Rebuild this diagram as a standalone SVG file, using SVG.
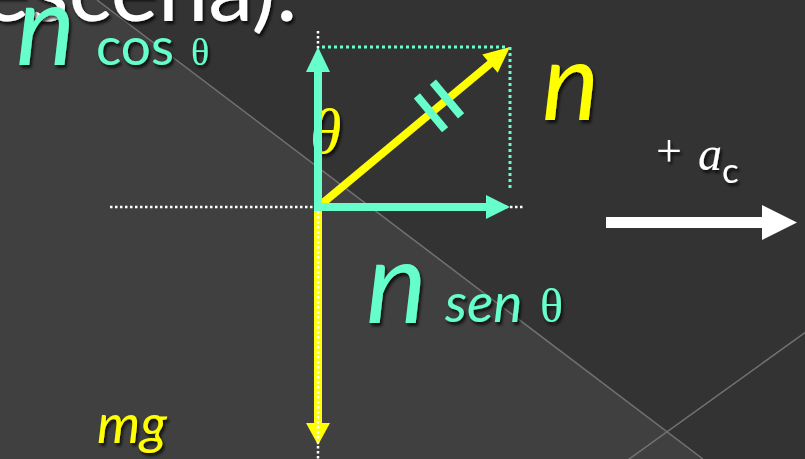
<svg xmlns="http://www.w3.org/2000/svg" width="805" height="459" viewBox="0 0 805 459">
<defs>
<style>
.teal{fill:#66FFCC}
.yel{fill:#FFFF00}
.wht{fill:#FFFFFF}
.sans{font-family:"Lato","Open Sans","Liberation Sans",sans-serif}
.serif{font-family:"Liberation Serif","DejaVu Serif",serif}
.it{font-style:italic}
.bgline{stroke:#727272;stroke-width:1.5;fill:none}
.wdot{stroke:#FFFFFF;stroke-width:2.5;stroke-dasharray:2.5 2.5;fill:none}
.tdot{stroke:#66FFCC;stroke-width:3;stroke-dasharray:3 3;fill:none}
.tline{stroke:#66FFCC;stroke-width:8;fill:none}
.yline{stroke:#FFFF00;stroke-width:8;fill:none}
</style>
<filter id="sh" x="-20%" y="-20%" width="140%" height="140%">
<feDropShadow dx="2" dy="3" stdDeviation="1.5" flood-color="#000" flood-opacity="0.75"/>
</filter>
</defs>
<g id="background">
<rect x="0" y="0" width="805" height="459" fill="#333333"/>
<polygon points="0,0 97,0 703,459 0,459" fill="#404040"/>
<line class="bgline" x1="97" y1="0" x2="703" y2="459"/>
<line class="bgline" x1="810" y1="329" x2="625" y2="462"/>
</g>
<g id="title" filter="url(#sh)">
<text class="wht sans" x="298" y="21" font-size="90" text-anchor="end">a (escena):</text>
</g>
<g id="theta-label" filter="url(#sh)">
<text class="yel serif it" x="310" y="153" font-size="64">θ</text>
</g>
<g id="connectors">
<line class="yline" x1="318" y1="207" x2="491" y2="63"/>
<polygon class="yel" points="510,47 497.7,72.8 482.3,54.4"/>
<line class="yline" x1="318" y1="203" x2="318" y2="424"/>
<polygon class="yel" points="318,445 306,423 330,423"/>
<line class="wdot" x1="110" y1="207" x2="525" y2="207"/>
<line class="wdot" x1="318" y1="31" x2="318" y2="459"/>
<line class="tdot" x1="322" y1="47" x2="505" y2="47"/>
<line class="tdot" x1="510" y1="47" x2="510" y2="189" stroke-width="2"/>
<line class="tline" x1="318" y1="211" x2="318" y2="70"/>
<polygon class="teal" points="318,47 306,72 330,72"/>
<line class="tline" x1="314" y1="207" x2="487" y2="207"/>
<polygon class="teal" points="510,207 486,195 486,219"/>
<line class="tline" x1="416.9" y1="95.9" x2="445.1" y2="129.7" stroke-width="7"/>
<line class="tline" x1="432.9" y1="82.1" x2="461.1" y2="115.9" stroke-width="7"/>
<line stroke="#FFFFFF" stroke-width="11" x1="606" y1="222.5" x2="763" y2="222.5"/>
<polygon class="wht" points="797,222.5 762,205 762,240"/>
</g>
<g id="n-cos" filter="url(#sh)">
<text class="teal sans it" x="16" y="65" font-size="112">n</text>
<text class="teal sans" x="96" y="65" font-size="53">cos</text>
<text class="teal serif" x="191" y="65" font-size="38">θ</text>
</g>
<g id="n-force" filter="url(#sh)">
<text class="yel sans it" x="542" y="120" font-size="108">n</text>
</g>
<g id="ac" filter="url(#sh)">
<text class="wht serif" x="656" y="166" font-size="46">+</text>
<text class="wht serif it" x="698" y="170" font-size="48">a</text>
<text class="wht sans" x="722" y="183" font-size="35">c</text>
</g>
<g id="n-sen" filter="url(#sh)">
<text class="teal sans it" x="366" y="323" font-size="115">n</text>
<text class="teal sans it" x="445" y="322" font-size="55">sen</text>
<text class="teal serif" x="540" y="322" font-size="48">θ</text>
</g>
<g id="mg" filter="url(#sh)">
<text class="yel sans it" x="97" y="443" font-size="55">mg</text>
</g>
</svg>
